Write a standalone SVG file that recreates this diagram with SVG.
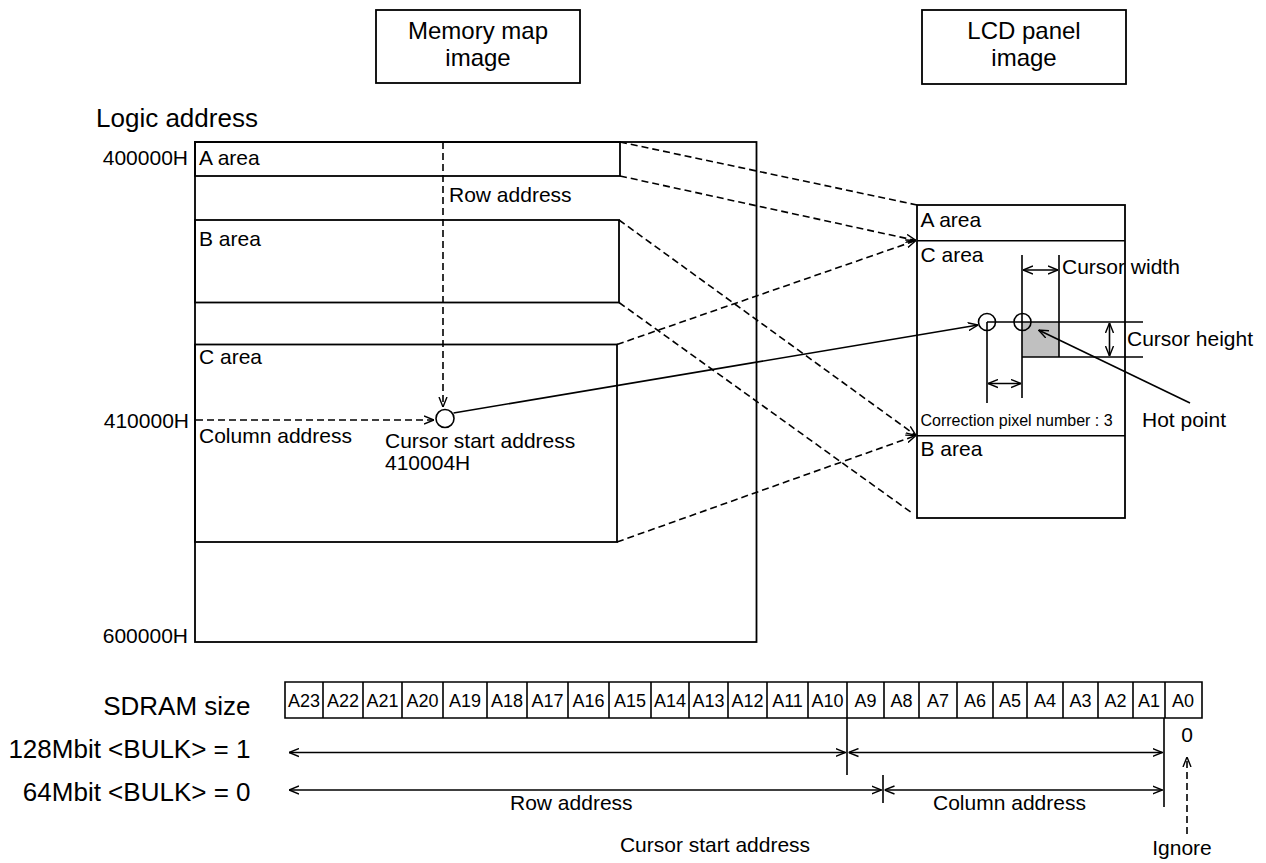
<svg xmlns="http://www.w3.org/2000/svg" width="1266" height="863" viewBox="0 0 1266 863">
<defs>
<marker id="ah" viewBox="0 0 10 10" refX="10" refY="5" markerWidth="10" markerHeight="10" markerUnits="userSpaceOnUse" orient="auto-start-reverse">
<path d="M0,1 L10,5 L0,9" fill="none" stroke="#000" stroke-width="1.4"/>
</marker>
</defs>
<style>
text{font-family:"Liberation Sans",Arial,sans-serif;fill:#000}
.n{font-size:21px}
.b{font-size:26px}
.t{font-size:24px}
.e{text-anchor:end}
.m{text-anchor:middle}
.c{font-size:18px;text-anchor:middle}
.s{font-size:16px}
.box{fill:none;stroke:#000;stroke-width:1.8}
.ln{fill:none;stroke:#000;stroke-width:1.6}
.dash{fill:none;stroke:#000;stroke-width:1.6;stroke-dasharray:7 4}
.arr{marker-end:url(#ah)}
.dbl{marker-start:url(#ah);marker-end:url(#ah)}
</style>
<rect width="1266" height="863" fill="#fff"/>

<g id="title-memory">
<rect class="box" x="376" y="10" width="204" height="73"/>
<text class="t m" x="478" y="39">Memory map</text>
<text class="t m" x="478" y="66">image</text>
</g>
<g id="title-lcd">
<rect class="box" x="922" y="10" width="204" height="74"/>
<text class="t m" x="1024" y="39">LCD panel</text>
<text class="t m" x="1024" y="66">image</text>
</g>

<g id="memory-map">
<text class="b" x="96" y="127">Logic address</text>
<text class="n e" x="188" y="165">400000H</text>
<text class="n e" x="189" y="428">410000H</text>
<text class="n e" x="188" y="643">600000H</text>
<rect class="box" x="195" y="142" width="561.5" height="500"/>
</g>
<g id="mem-a-area">
<rect class="box" x="195" y="142" width="425" height="34"/>
<text class="n" x="199" y="165">A area</text>
</g>
<g id="mem-b-area">
<rect class="box" x="195" y="220" width="424" height="82.5"/>
<text class="n" x="199" y="246">B area</text>
</g>
<g id="mem-c-area">
<rect class="box" x="195" y="344.5" width="422" height="197.5"/>
<text class="n" x="199" y="364">C area</text>
<text class="n" x="199" y="443">Column address</text>
<text class="n" x="449" y="202">Row address</text>
</g>
<g id="cursor-start">
<circle class="ln" cx="445" cy="418.5" r="9"/>
<text class="n" x="385" y="448">Cursor start address</text>
<text class="n" x="385" y="470">410004H</text>
</g>

<g id="lcd-panel">
<rect class="box" x="917" y="205" width="208" height="313"/>
<line class="ln" x1="917" y1="240.7" x2="1125" y2="240.7"/>
<line class="ln" x1="917" y1="435.7" x2="1125" y2="435.7"/>
<text class="n" x="920.5" y="227">A area</text>
<text class="n" x="920.5" y="262">C area</text>
<text class="s" x="920.5" y="426">Correction pixel number : 3</text>
<text class="n" x="920.5" y="456">B area</text>
</g>
<g id="cursor">
<rect x="1022" y="322" width="37" height="35" fill="#c0c0c0"/>
<path class="ln" d="M987,322 H1143 M1022,357 H1143 M987,322 V403 M1022,255 V398 M1059,255 V357"/>
<circle class="ln" cx="987" cy="322" r="8.5"/>
<circle class="ln" cx="1022.5" cy="322" r="8.5"/>
<line class="ln dbl" x1="1023" y1="270" x2="1058" y2="270"/>
<line class="ln dbl" x1="1109.5" y1="323" x2="1109.5" y2="356"/>
<line class="ln dbl" x1="988" y1="383.5" x2="1021" y2="383.5"/>
<text class="n" x="1062" y="274">Cursor width</text>
<text class="n" x="1127" y="346">Cursor height</text>
<text class="n" x="1142" y="427">Hot point</text>
<line class="ln arr" x1="1190" y1="403" x2="1038.5" y2="330"/>
</g>

<g id="connectors">
<line class="dash arr" x1="443" y1="142" x2="443" y2="407"/>
<line class="dash arr" x1="196" y1="420" x2="434" y2="420"/>
<line class="ln arr" x1="453.5" y1="413" x2="978" y2="325"/>
<line class="dash" x1="620" y1="142" x2="917" y2="205"/>
<line class="dash arr" x1="620" y1="176" x2="916" y2="240.5"/>
<line class="dash arr" x1="617" y1="344.5" x2="916" y2="240.5"/>
<line class="dash arr" x1="619" y1="220" x2="916" y2="435.5"/>
<line class="dash arr" x1="617" y1="542" x2="916" y2="435.5"/>
<line class="dash" x1="619" y1="302.5" x2="912" y2="513"/>
</g>

<g id="sdram-labels">
<text class="b e" x="250.5" y="715">SDRAM size</text>
<text class="b e" x="250.5" y="758">128Mbit &lt;BULK&gt; = 1</text>
<text class="b e" x="250.5" y="801">64Mbit &lt;BULK&gt; = 0</text>
</g>

<g id="address-table">
<path class="ln" d="M285,682 H1202 V718 H285 Z M323,682 V718 M363,682 V718 M402,682 V718 M443,682 V718 M487,682 V718 M527,682 V718 M568,682 V718 M609,682 V718 M651,682 V718 M689,682 V718 M728,682 V718 M767,682 V718 M808,682 V718 M847,682 V718 M884,682 V718 M919,682 V718 M957,682 V718 M993,682 V718 M1027,682 V718 M1063,682 V718 M1098,682 V718 M1133,682 V718 M1165,682 V718"/>
<text class="c" x="304" y="707">A23</text>
<text class="c" x="343" y="707">A22</text>
<text class="c" x="382.5" y="707">A21</text>
<text class="c" x="422.5" y="707">A20</text>
<text class="c" x="465" y="707">A19</text>
<text class="c" x="507" y="707">A18</text>
<text class="c" x="547.5" y="707">A17</text>
<text class="c" x="588.5" y="707">A16</text>
<text class="c" x="630" y="707">A15</text>
<text class="c" x="670" y="707">A14</text>
<text class="c" x="708.5" y="707">A13</text>
<text class="c" x="747.5" y="707">A12</text>
<text class="c" x="787.5" y="707">A11</text>
<text class="c" x="827.5" y="707">A10</text>
<text class="c" x="865.5" y="707">A9</text>
<text class="c" x="901.5" y="707">A8</text>
<text class="c" x="938" y="707">A7</text>
<text class="c" x="975" y="707">A6</text>
<text class="c" x="1010" y="707">A5</text>
<text class="c" x="1045" y="707">A4</text>
<text class="c" x="1080.5" y="707">A3</text>
<text class="c" x="1115.5" y="707">A2</text>
<text class="c" x="1149" y="707">A1</text>
<text class="c" x="1183" y="707">A0</text>
</g>

<g id="bulk-arrows">
<path class="ln" d="M847,718 V775 M1164,718 V807 M883,775 V803"/>
<line class="ln dbl" x1="289" y1="752.5" x2="845.5" y2="752.5"/>
<line class="ln dbl" x1="848.5" y1="752.5" x2="1162.5" y2="752.5"/>
<line class="ln dbl" x1="289" y1="790" x2="881.5" y2="790"/>
<line class="ln dbl" x1="884.5" y1="790" x2="1162.5" y2="790"/>
<text class="n" x="510" y="810">Row address</text>
<text class="n" x="933" y="810">Column address</text>
<text class="n m" x="715" y="852">Cursor start address</text>
<text class="n m" x="1187" y="742">0</text>
<line class="dash arr" x1="1187" y1="834" x2="1187" y2="757"/>
<text class="n m" x="1182" y="855">Ignore</text>
</g>
</svg>
